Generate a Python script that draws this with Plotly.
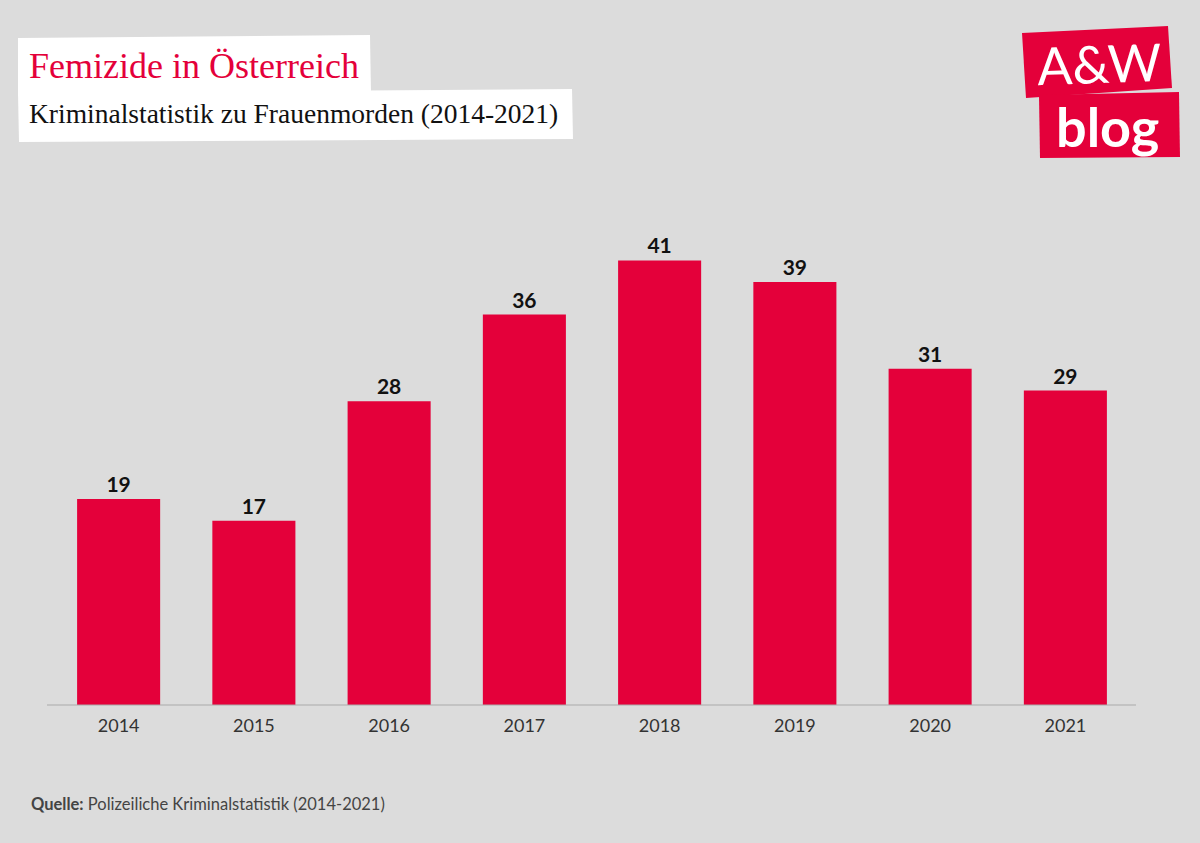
import plotly.graph_objects as go

years = ["2014", "2015", "2016", "2017", "2018", "2019", "2020", "2021"]
femicides = [19, 17, 28, 36, 41, 39, 31, 29]

title_text = "Femizide in Österreich"
subtitle_text = "Kriminalstatistik zu Frauenmorden (2014-2021)"
source_label = "Quelle:"
source_text = "Polizeiliche Kriminalstatistik (2014-2021)"

RED = "#e4003a"
BG = "#dcdcdc"
W, H = 1200, 843
L, R, T, B = 51, 1133, 217, 705  # plot area in px


def px(x):
    return (x - L) / (R - L)


def py(y):
    return (B - y) / (B - T)


def path(points):
    return "M " + " L ".join(f"{px(x):.5f},{py(y):.5f}" for x, y in points) + " Z"


fig = go.Figure(
    go.Bar(
        x=years,
        y=femicides,
        marker=dict(color=RED, line=dict(width=0)),
        text=[str(v) for v in femicides],
        textposition="outside",
        textfont=dict(family="Lato", size=21, color="#111111", weight="bold"),
        cliponaxis=False,
        hoverinfo="skip",
    )
)

shapes = [
    # title boxes
    dict(type="path", xref="paper", yref="paper",
         path=path([(18, 38), (370, 35), (371, 94), (18, 96)]),
         fillcolor="white", line=dict(width=0), layer="below"),
    dict(type="path", xref="paper", yref="paper",
         path=path([(18, 93), (572, 89), (573, 139), (19, 142)]),
         fillcolor="white", line=dict(width=0), layer="below"),
    # logo boxes
    dict(type="path", xref="paper", yref="paper",
         path=path([(1022, 33), (1168, 26), (1172, 88), (1026, 98)]),
         fillcolor=RED, line=dict(width=0), layer="above"),
    dict(type="path", xref="paper", yref="paper",
         path=path([(1039, 95), (1179, 92), (1180, 157), (1040, 158)]),
         fillcolor=RED, line=dict(width=0), layer="above"),
    # baseline axis line
    dict(type="line", xref="paper", yref="paper",
         x0=px(47), x1=px(1136), y0=0, y1=0,
         line=dict(color="#aaaaaa", width=1.2)),
]

annotations = [
    dict(text=title_text, xref="paper", yref="paper", x=px(27), y=py(66),
         xanchor="left", yanchor="middle", showarrow=False,
         font=dict(family="Liberation Serif", size=36, color=RED)),
    dict(text=subtitle_text, xref="paper", yref="paper", x=px(27), y=py(113),
         xanchor="left", yanchor="middle", showarrow=False,
         font=dict(family="Liberation Serif", size=27.5, color="#111111")),
    dict(text="A&W", xref="paper", yref="paper", x=px(1099), y=py(63),
         xanchor="center", yanchor="middle", showarrow=False, textangle=-2,
         font=dict(family="Lato", size=52, color="white", weight=400)),
    dict(text="<b>blog</b>", xref="paper", yref="paper", x=px(1107), y=py(126),
         xanchor="center", yanchor="middle", showarrow=False,
         font=dict(family="Lato", size=54, color="white")),
    dict(text=f"<b>{source_label}</b> {source_text}", xref="paper", yref="paper",
         x=px(29), y=py(804), xanchor="left", yanchor="middle", showarrow=False,
         font=dict(family="Lato", size=16.5, color="#444444")),
]

fig.update_layout(
    width=W, height=H,
    paper_bgcolor=BG, plot_bgcolor=BG,
    margin=dict(l=L, r=W - R, t=T, b=H - B, pad=0),
    bargap=0.386,
    showlegend=False,
    shapes=shapes,
    annotations=annotations,
    xaxis=dict(showgrid=False, showline=False, zeroline=False, ticks="",
               ticklabelstandoff=8,
               tickfont=dict(family="Lato", size=18, color="#333333"),
               fixedrange=True),
    yaxis=dict(range=[0, 45], visible=False, showgrid=False, zeroline=False,
               fixedrange=True),
)

fig.write_html(
    "out.html",
    config={"displayModeBar": False},
    post_script="document.body.style.margin='0';document.body.style.background='#dcdcdc';",
)
